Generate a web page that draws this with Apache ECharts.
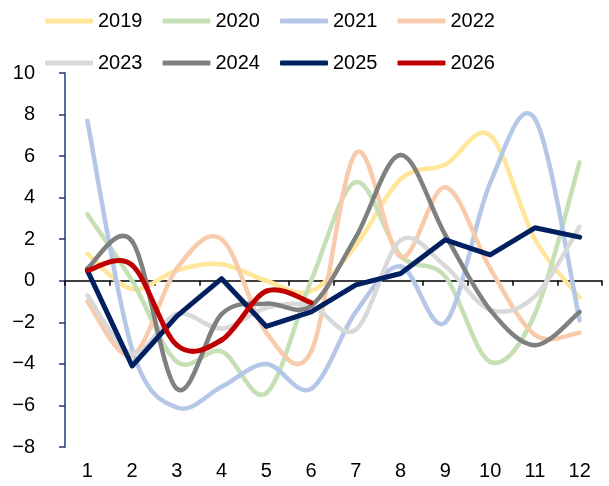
<!DOCTYPE html>
<html>
<head>
<meta charset="utf-8">
<script src="https://cdn.jsdelivr.net/npm/echarts@6/dist/echarts.min.js"></script>
<style>
html,body{margin:0;padding:0;background:#fff;}
#chart{width:609px;height:486px;}
</style>
</head>
<body>
<div id="chart"></div>
<script>
var categories = ['1','2','3','4','5','6','7','8','9','10','11','12'];
var yTicks = [-8,-6,-4,-2,0,2,4,6,8,10];
var names = ['2019','2020','2021','2022','2023','2024','2025','2026'];
var s2019 = [1.3, -0.4, 0.5, 0.8, 0.0, -0.5, 1.7, 4.9, 5.6, 7.0, 2.0, -0.8];
var s2020 = [3.2, 0.0, -3.9, -3.4, -5.4, 0.0, 4.75, 1.2, 0.2, -3.9, -1.6, 5.7];
var s2021 = [7.7, -3.3, -6.1, -5.1, -4.0, -5.2, -1.5, 0.7, -2.0, 4.7, 7.8, -1.9];
var s2022 = [-1.0, -3.6, 0.6, 2.0, -2.5, -3.4, 6.15, 1.15, 4.5, 0.6, -2.6, -2.5];
var s2023 = [-0.7, -3.5, -1.6, -2.3, -1.3, -1.2, -2.35, 1.95, 0.7, -1.4, -0.75, 2.6];
var s2024 = [0.6, 1.9, -5.2, -1.6, -1.1, -1.2, 2.1, 6.05, 2.2, -1.4, -3.1, -1.5];
var s2025 = [0.5, -4.1, -1.7, 0.1, -2.2, -1.5, -0.2, 0.35, 1.97, 1.25, 2.55, 2.1];
var s2026 = [0.5, 0.75, -3.1, -2.85, -0.5, -1.05];

var values = [s2019, s2020, s2021, s2022, s2023, s2024, s2025, s2026];
var colors = ['#FFE699','#C5E0B4','#B4C7E7','#F8CBAD','#D9D9D9','#808080','#002060','#C00000'];
var widths = [4.5,4.5,4.5,4.5,4.5,4.5,5,5];
var smoothFlags = [true,true,true,true,true,true,false,true];

var FONT = '"Liberation Sans", Arial, sans-serif';

function makeSeries(i){
  var vals = values[i];
  var data = vals.map(function(v, k){ return [k, v]; });
  return {
    name: names[i],
    type: 'custom',
    xAxisIndex: 0,
    yAxisIndex: 0,
    data: data,
    encode: {x: 0, y: 1},
    itemStyle: {color: colors[i]},
    z: 2 + i,
    clip: false,
    animation: false,
    renderItem: function(params, api){
      if (params.dataIndex !== 0) return null;
      var pts = vals.map(function(v, k){ return api.coord([k, v]); });
      var style = {stroke: colors[i], lineWidth: widths[i], fill: null, lineCap: 'round', lineJoin: 'round'};
      if (!smoothFlags[i]) {
        return {type: 'polyline', shape: {points: pts}, style: style};
      }
      var n = pts.length, children = [];
      for (var k = 0; k < n - 1; k++) {
        var p0 = pts[Math.max(k - 1, 0)], p1 = pts[k], p2 = pts[k + 1], p3 = pts[Math.min(k + 2, n - 1)];
        children.push({
          type: 'bezierCurve',
          shape: {
            x1: p1[0], y1: p1[1],
            cpx1: p1[0] + (p2[0] - p0[0]) / 6, cpy1: p1[1] + (p2[1] - p0[1]) / 6,
            cpx2: p2[0] - (p3[0] - p1[0]) / 6, cpy2: p2[1] - (p3[1] - p1[1]) / 6,
            x2: p2[0], y2: p2[1]
          },
          style: style
        });
      }
      return {type: 'group', children: children};
    }
  };
}

var series = names.map(function(n, i){ return makeSeries(i); });

var legendCommon = {
  left: 40,
  padding: 5,
  icon: 'roundRect',
  itemWidth: 48,
  itemHeight: 5,
  itemGap: 20,
  textStyle: {fontFamily: FONT, fontSize: 20, color: '#000'},
  selectedMode: false
};

var chart = echarts.init(document.getElementById('chart'), null, {renderer: 'canvas'});
chart.setOption({
  animation: false,
  color: colors,
  legend: [
    Object.assign({}, legendCommon, {top: 6, data: names.slice(0,4)}),
    Object.assign({}, legendCommon, {top: 48, data: names.slice(4,8)})
  ],
  grid: {left: 65, right: 7, top: 73, bottom: 39, containLabel: false},
  xAxis: [
    {
      type: 'category',
      data: categories,
      position: 'bottom',
      axisLine: {onZero: true, lineStyle: {color: '#000', width: 1.5}},
      axisTick: {show: true, length: 5, lineStyle: {color: '#000', width: 1.5}},
      axisLabel: {show: false},
      splitLine: {show: false}
    },
    {
      type: 'category',
      data: categories,
      position: 'bottom',
      axisLine: {show: false, onZero: false},
      axisTick: {show: false},
      axisLabel: {show: true, margin: 14, fontFamily: FONT, fontSize: 20, color: '#000'},
      splitLine: {show: false}
    }
  ],
  yAxis: {
    type: 'value',
    min: yTicks[0],
    max: yTicks[yTicks.length-1],
    interval: 2,
    axisLine: {show: true, lineStyle: {color: '#1F3A75', width: 1.5}},
    axisTick: {show: true, length: 6, lineStyle: {color: '#1F3A75', width: 1.5}},
    axisLabel: {
      margin: 30,
      fontFamily: FONT, fontSize: 20, color: '#000',
      formatter: function(v){ return v < 0 ? '\u2212' + Math.abs(v) : String(v); }
    },
    splitLine: {show: false}
  },
  series: series
});
</script>
</body>
</html>
